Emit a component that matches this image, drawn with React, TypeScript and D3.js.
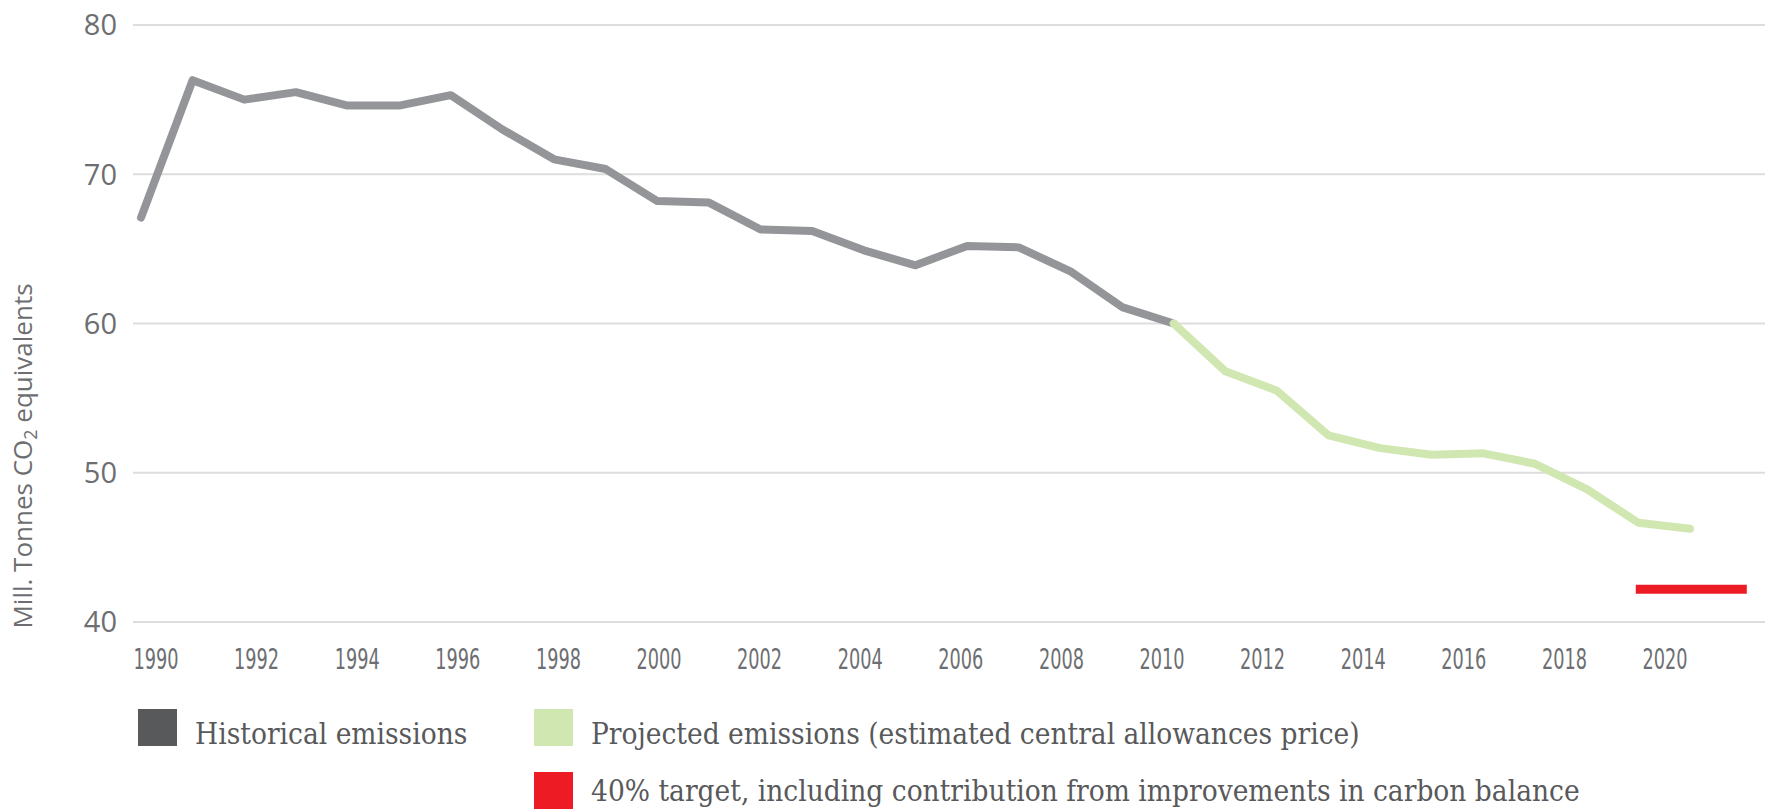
import * as d3 from "d3";
import { useEffect, useRef } from "react";

const historicalYears = [
  1990, 1991, 1992, 1993, 1994, 1995, 1996, 1997, 1998, 1999, 2000, 2001, 2002,
  2003, 2004, 2005, 2006, 2007, 2008, 2009, 2010,
];
const historicalValues = [
  67.1, 76.3, 75.0, 75.5, 74.6, 74.6, 75.3, 73.0, 71.0, 70.35, 68.2, 68.1, 66.3,
  66.2, 64.9, 63.9, 65.2, 65.1, 63.5, 61.1, 60.0,
];
const projectedYears = [
  2010, 2011, 2012, 2013, 2014, 2015, 2016, 2017, 2018, 2019, 2020,
];
const projectedValues = [
  60.0, 56.8, 55.5, 52.5, 51.65, 51.2, 51.3, 50.6, 48.9, 46.65, 46.25,
];
const targetYears = [2018.95, 2021.1];
const targetValues = [42.2, 42.2];

const yTicks = [40, 50, 60, 70, 80];
const xTickLabels = [
  1990, 1992, 1994, 1996, 1998, 2000, 2002, 2004, 2006, 2008, 2010, 2012, 2014,
  2016, 2018, 2020,
];

const legendItems = [
  { label: "Historical emissions", color: "#58595b" },
  { label: "Projected emissions (estimated central allowances price)", color: "#d1e7b1" },
  { label: "40% target, including contribution from improvements in carbon balance", color: "#ed1c24" },
];

export default function App() {
  const ref = useRef<SVGSVGElement | null>(null);

  useEffect(() => {
    if (!ref.current) return;
    const width = 1768;
    const height = 811;
    const svg = d3.select(ref.current);
    svg.selectAll("*").remove();

    const x = d3.scaleLinear().domain([1990, 2020]).range([141, 1690]);
    // category labels sit on a slightly different spacing than the points
    const xLabel = d3.scaleLinear().domain([1990, 2020]).range([156, 1665]);
    const y = d3.scaleLinear().domain([40, 80]).range([622, 25]);

    const textColor = "#6d6e71";

    // gridlines
    svg
      .append("g")
      .selectAll("line")
      .data(yTicks)
      .join("line")
      .attr("x1", 133)
      .attr("x2", 1765)
      .attr("y1", (d) => y(d))
      .attr("y2", (d) => y(d))
      .attr("stroke", "#dddddd")
      .attr("stroke-width", 2);

    // y tick labels
    svg
      .append("g")
      .selectAll("text")
      .data(yTicks)
      .join("text")
      .attr("x", 117)
      .attr("y", (d) => y(d))
      .attr("dy", "0.36em")
      .attr("text-anchor", "end")
      .attr("font-family", "'Open Sans', sans-serif")
      .attr("font-size", 29)
      .attr("fill", textColor)
      .text((d) => d);

    // x tick labels
    svg
      .append("g")
      .selectAll("text")
      .data(xTickLabels)
      .join("text")
      .attr("x", (d) => xLabel(d) - 22.5)
      .attr("y", 669)
      .attr("font-family", "'DejaVu Sans Condensed', sans-serif")
      .attr("font-size", 28)
      .attr("textLength", 45)
      .attr("lengthAdjust", "spacingAndGlyphs")
      .attr("fill", textColor)
      .text((d) => d);

    // y axis title
    const title = svg
      .append("text")
      .attr("transform", `translate(32,456) rotate(-90)`)
      .attr("text-anchor", "middle")
      .attr("font-family", "'Open Sans', sans-serif")
      .attr("font-size", 26)
      .attr("fill", textColor);
    title.append("tspan").text("Mill. Tonnes CO");
    title.append("tspan").attr("font-size", 18).attr("dy", 5).text("2");
    title.append("tspan").attr("dy", -5).text(" equivalents");

    const line = d3
      .line<[number, number]>()
      .x((d) => x(d[0]))
      .y((d) => y(d[1]));

    const hist = historicalYears.map((yr, i) => [yr, historicalValues[i]] as [number, number]);
    const proj = projectedYears.map((yr, i) => [yr, projectedValues[i]] as [number, number]);
    const target = targetYears.map((yr, i) => [yr, targetValues[i]] as [number, number]);

    svg
      .append("path")
      .attr("d", line(hist))
      .attr("fill", "none")
      .attr("stroke", "#939598")
      .attr("stroke-width", 8)
      .attr("stroke-linejoin", "round")
      .attr("stroke-linecap", "round");

    svg
      .append("path")
      .attr("d", line(proj))
      .attr("fill", "none")
      .attr("stroke", "#d1e7b1")
      .attr("stroke-width", 8)
      .attr("stroke-linejoin", "round")
      .attr("stroke-linecap", "round");

    svg
      .append("path")
      .attr("d", line(target))
      .attr("fill", "none")
      .attr("stroke", "#ed1c24")
      .attr("stroke-width", 9);

    // legend
    const legendPos = [
      { x: 138, y: 709, ty: 35 },
      { x: 534, y: 709, ty: 35 },
      { x: 534, y: 772, ty: 29 },
    ];
    const lg = svg
      .append("g")
      .selectAll("g")
      .data(legendItems)
      .join("g")
      .attr("transform", (_, i) => `translate(${legendPos[i].x},${legendPos[i].y})`);
    lg.append("rect")
      .attr("width", 39)
      .attr("height", 37)
      .attr("fill", (d) => d.color);
    lg.append("text")
      .attr("x", 57)
      .attr("y", (_, i) => legendPos[i].ty)
      .attr("font-family", "'DejaVu Serif Condensed', serif")
      .attr("font-size", 29.5)
      .attr("fill", "#58595b")
      .text((d) => d.label);

    svg.attr("width", width).attr("height", height);
  }, []);

  return (
    <div style={{ position: "absolute", left: 0, top: 0 }}>
      <svg ref={ref} width={1768} height={811} style={{ display: "block" }}></svg>
    </div>
  );
}
